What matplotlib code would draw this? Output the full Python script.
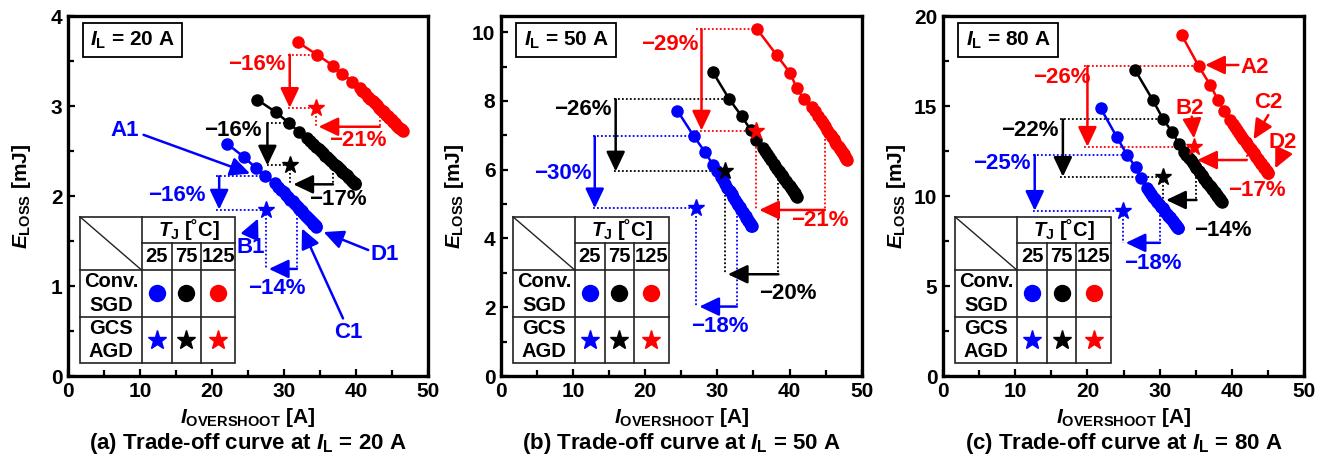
import matplotlib
matplotlib.use('Agg')
import matplotlib.pyplot as plt
from matplotlib.patches import Rectangle
from matplotlib.ticker import MultipleLocator

plt.rcParams['font.family'] = ['Liberation Sans', 'DejaVu Sans']
plt.rcParams['font.weight'] = 'bold'
plt.rcParams['axes.labelweight'] = 'bold'
plt.rcParams['mathtext.fontset'] = 'custom'
plt.rcParams['mathtext.rm'] = 'Liberation Sans:bold'
plt.rcParams['mathtext.it'] = 'Liberation Sans:italic:bold'
plt.rcParams['mathtext.bf'] = 'Liberation Sans:bold'

# junction temperatures and colours (25, 75, 125 degC)
temps = ['25', '75', '125']
colors = ['#0000ff', '#000000', '#ff0000']
load_currents = [20, 50, 80]

# ---- (a) IL = 20 A : conventional SGD trade-off curves (I_OVERSHOOT [A], E_LOSS [mJ]) ----
a_blue_x = [22.1, 24.5, 26.1, 27.4, 28.7, 29.2, 29.6, 30.0, 30.3, 30.6, 30.9, 31.2, 31.4, 31.7, 31.9,
            32.1, 32.3, 32.5, 32.7, 32.9, 33.0, 33.2, 33.3, 33.5, 33.6, 33.8, 33.9, 34.0, 34.1,
            34.2, 34.3, 34.4, 34.5]
a_blue_y = [2.58, 2.43, 2.31, 2.22, 2.14, 2.10, 2.07, 2.04, 2.01, 1.99, 1.96, 1.94, 1.92, 1.90, 1.88,
            1.86, 1.84, 1.83, 1.81, 1.79, 1.78, 1.77, 1.76, 1.74, 1.73, 1.72, 1.71, 1.70, 1.69,
            1.69, 1.68, 1.67, 1.66]
a_black_x = [26.3, 28.9, 30.7, 32.1, 33.2, 33.6, 34.0, 34.4, 34.8, 35.1, 35.4, 35.7, 36.0, 36.3,
             36.6, 36.9, 37.1, 37.4, 37.6, 37.9, 38.1, 38.3, 38.5, 38.7, 38.9, 39.1, 39.3, 39.4,
             39.6, 39.7, 39.8, 39.9]
a_black_y = [3.07, 2.93, 2.81, 2.71, 2.64, 2.61, 2.58, 2.55, 2.52, 2.50, 2.48, 2.45, 2.43, 2.41,
             2.39, 2.36, 2.35, 2.33, 2.31, 2.29, 2.27, 2.26, 2.24, 2.23, 2.21, 2.20, 2.18, 2.17,
             2.16, 2.15, 2.14, 2.13]
a_red_x = [31.9, 34.6, 36.8, 38.1, 39.5, 40.5, 40.9, 41.3, 41.7, 42.0, 42.3, 42.6, 42.9, 43.2, 43.5,
           43.7, 43.9, 44.2, 44.4, 44.6, 44.8, 45.0, 45.2, 45.4, 45.6, 45.7, 45.9, 46.0, 46.2,
           46.3, 46.4, 46.5]
a_red_y = [3.71, 3.57, 3.45, 3.36, 3.27, 3.20, 3.17, 3.14, 3.10, 3.08, 3.06, 3.03, 3.01, 2.98, 2.96,
           2.94, 2.93, 2.90, 2.89, 2.87, 2.86, 2.84, 2.82, 2.81, 2.79, 2.78, 2.77, 2.76, 2.74,
           2.74, 2.73, 2.72]
# GCS AGD operating points
a_gcs_x = [27.5, 30.9, 34.4]
a_gcs_y = [1.85, 2.34, 2.98]
# reductions [%]: E_LOSS and I_OVERSHOOT
a_eloss_red = [16, 16, 16]
a_iover_red = [14, 17, 21]

# ---- (b) IL = 50 A ----
b_blue_x = [24.45, 26.75, 28.3, 29.4, 30.0, 30.5, 30.8, 31.1, 31.4, 31.7, 32.0, 32.2, 32.5, 32.7,
            32.9, 33.1, 33.3, 33.5, 33.7, 33.9, 34.0, 34.2, 34.3, 34.4, 34.5, 34.6, 34.7, 34.75]
b_blue_y = [7.72, 6.97, 6.51, 6.14, 5.95, 5.79, 5.69, 5.59, 5.48, 5.38, 5.28, 5.21, 5.11, 5.04,
            4.97, 4.91, 4.84, 4.77, 4.70, 4.64, 4.60, 4.54, 4.50, 4.47, 4.44, 4.40, 4.37, 4.35]
b_black_x = [29.4, 31.65, 33.4, 34.6, 35.4, 36.3, 36.6, 36.9, 37.2, 37.5, 37.8, 38.0, 38.3, 38.5,
             38.7, 38.9, 39.1, 39.3, 39.5, 39.7, 39.9, 40.0, 40.2, 40.3, 40.5, 40.6, 40.7, 40.8,
             40.9, 41.0]
b_black_y = [8.83, 8.05, 7.55, 7.16, 6.87, 6.63, 6.54, 6.45, 6.36, 6.27, 6.18, 6.12, 6.03, 5.97,
             5.91, 5.85, 5.79, 5.73, 5.67, 5.61, 5.55, 5.52, 5.46, 5.43, 5.37, 5.34, 5.31, 5.28,
             5.25, 5.22]
b_red_x = [35.5, 38.2, 40.1, 41.0, 42.0, 43.1, 43.5, 43.9, 44.3, 44.6, 44.9, 45.2, 45.5, 45.7, 45.9,
           46.1, 46.3, 46.5, 46.7, 46.8, 47.0, 47.1, 47.3, 47.4, 47.5, 47.6, 47.7, 47.8, 47.9, 48.0]
b_red_y = [10.09, 9.34, 8.81, 8.37, 8.05, 7.82, 7.70, 7.57, 7.45, 7.35, 7.26, 7.16, 7.07, 7.01, 6.95,
           6.88, 6.82, 6.76, 6.70, 6.67, 6.60, 6.57, 6.51, 6.48, 6.45, 6.42, 6.38, 6.35, 6.32, 6.29]
b_gcs_x = [27.1, 31.05, 35.4]
b_gcs_y = [4.88, 5.95, 7.14]
b_eloss_red = [30, 26, 29]
b_iover_red = [18, 20, 21]

# ---- (c) IL = 80 A ----
c_blue_x = [21.85, 24.05, 25.5, 26.7, 27.4, 28.2, 28.5, 28.8, 29.1, 29.4, 29.7, 29.9, 30.2, 30.4,
            30.6, 30.8, 31.0, 31.2, 31.4, 31.5, 31.7, 31.8, 32.0, 32.1, 32.2, 32.3, 32.4, 32.5, 32.6]
c_blue_y = [14.87, 13.29, 12.28, 11.59, 10.98, 10.43, 10.28, 10.13, 9.97, 9.82, 9.67, 9.57, 9.41, 9.31,
            9.21, 9.11, 9.01, 8.91, 8.81, 8.76, 8.66, 8.61, 8.50, 8.45, 8.40, 8.35, 8.30, 8.25, 8.20]
c_black_x = [26.6, 29.05, 30.5, 31.7, 32.7, 33.4, 33.7, 34.0, 34.3, 34.6, 34.9, 35.1, 35.4, 35.6,
             35.8, 36.0, 36.2, 36.4, 36.6, 36.8, 37.0, 37.1, 37.3, 37.4, 37.6, 37.7, 37.9, 38.0,
             38.1, 38.2, 38.3, 38.4, 38.5, 38.6]
c_black_y = [17.0, 15.33, 14.26, 13.57, 12.89, 12.46, 12.30, 12.14, 11.98, 11.82, 11.66, 11.55, 11.39,
             11.28, 11.18, 11.07, 10.96, 10.86, 10.75, 10.64, 10.54, 10.48, 10.38, 10.32, 10.21,
             10.16, 10.05, 10.00, 9.95, 9.89, 9.84, 9.79, 9.73, 9.68]
c_red_x = [33.06, 35.4, 37.0, 38.1, 38.9, 39.75, 40.1, 40.4, 40.7, 41.0, 41.3, 41.6, 41.9, 42.1,
           42.4, 42.6, 42.8, 43.0, 43.2, 43.4, 43.6, 43.8, 44.0, 44.1, 44.3, 44.4, 44.5, 44.7,
           44.8, 44.9, 45.0, 45.05]
c_red_y = [18.94, 17.22, 16.17, 15.33, 14.74, 14.22, 14.02, 13.86, 13.69, 13.52, 13.36, 13.19, 13.02,
           12.91, 12.74, 12.63, 12.52, 12.41, 12.30, 12.18, 12.07, 11.96, 11.85, 11.79, 11.68,
           11.62, 11.57, 11.46, 11.40, 11.34, 11.29, 11.26]
c_gcs_x = [24.9, 30.5, 34.8]
c_gcs_y = [9.18, 11.07, 12.74]
c_eloss_red = [25, 22, 26]
c_iover_red = [18, 14, 17]

# annotation layout (data coords), one entry per temperature
# v_idx: curve point used for the E_LOSS comparison, v_x: (dotted start x, arrow x)
# h: (curve x, arrow y) for the I_OVERSHOOT comparison
layout_a = dict(v_idx=[3, 2, 1], v_x=[(20.6, 21.0), (27.6, 27.7), (30.6, 30.8)],
                v_txt=[(15.1, 2.01), (22.9, 2.73), (26.2, 3.46)],
                h=[(31.8, 1.19), (36.8, 2.13), (43.3, 2.77)],
                h_txt=[(29.0, 0.97), (37.5, 1.96), (40.3, 2.62)],
                tags=[('A1', (7.9, 2.73), (10.5, 2.68), (25.3, 2.25)),
                      ('B1', (25.4, 1.43), (25.5, 1.59), (26.4, 1.75)),
                      ('C1', (38.9, 0.48), (38.2, 0.64), (32.5, 1.64)),
                      ('D1', (44.0, 1.35), (41.7, 1.40), (35.5, 1.60))],
                tag_color='#0000ff')
layout_b = dict(v_idx=[1, 1, 0], v_x=[(12.8, 13.0), (15.6, 15.9), (27.1, 27.8)],
                v_txt=[(8.6, 5.9), (11.4, 7.74), (23.4, 9.63)],
                h=[(32.7, 2.02), (38.45, 2.96), (44.9, 4.83)],
                h_txt=[(30.4, 1.43), (39.8, 2.4), (44.2, 4.53)],
                tags=[], tag_color='#ff0000')
layout_c = dict(v_idx=[2, 2, 1], v_x=[(12.5, 12.7), (16.2, 16.6), (19.5, 20.0)],
                v_txt=[(8.1, 11.8), (12.05, 13.63), (16.4, 16.6)],
                h=[(30.05, 7.4), (35.1, 9.78), (42.05, 12.0)],
                h_txt=[(29.1, 6.26), (38.7, 8.1), (43.4, 10.33)],
                tags=[('A2', (43.1, 17.14), (40.9, 17.28), (36.3, 17.28)),
                      ('B2', (34.2, 14.87), (34.45, 14.41), (34.76, 13.2)),
                      ('C2', (45.05, 15.18), (45.05, 14.5), (43.0, 13.15)),
                      ('D2', (47.1, 12.97), (47.1, 12.46), (46.0, 11.54))],
                tag_color='#ff0000')

FS = 15        # ticks, axis labels, boxes
FS_TAB = 14.5  # inset table
FS_ANN = 16    # percentages and point tags
DOT = dict(ls=(0, (1, 1.2)), lw=1.3, zorder=2)
HEAD = '-|>,head_length=0.8,head_width=0.38'


def arrow(ax, tail, tip, c):
    ax.annotate('', xy=tip, xytext=tail,
                arrowprops=dict(arrowstyle=HEAD, mutation_scale=15, color=c, lw=1.8,
                                shrinkA=0, shrinkB=0), zorder=3)


def draw_table(ax):
    cx = [0.033, 0.205, 0.288, 0.369, 0.465]
    ry = [0.4425, 0.369, 0.294, 0.165, 0.035]
    tr = ax.transAxes
    ax.add_patch(Rectangle((cx[0], ry[-1]), cx[-1] - cx[0], ry[0] - ry[-1], transform=tr,
                           facecolor='white', edgecolor='#222222', lw=1.2, zorder=5))
    ln = dict(color='#222222', lw=1.2, transform=tr, zorder=6)
    ax.plot([cx[1], cx[-1]], [ry[1], ry[1]], **ln)
    for y in ry[2:4]:
        ax.plot([cx[0], cx[-1]], [y, y], **ln)
    ax.plot([cx[1], cx[1]], [ry[0], ry[-1]], **ln)
    for x in cx[2:4]:
        ax.plot([x, x], [ry[1], ry[-1]], **ln)
    ax.plot([cx[0], cx[1]], [ry[0], ry[2]], color='#222222', lw=1.0, transform=tr, zorder=6)
    ax.text((cx[1] + cx[-1]) / 2, (ry[0] + ry[1]) / 2, r'$T_\mathrm{J}$ [˚C]', transform=tr,
            ha='center', va='center', fontsize=FS_TAB, zorder=7)
    for k in range(3):
        xm = (cx[k + 1] + cx[k + 2]) / 2
        ax.text(xm, (ry[1] + ry[2]) / 2, temps[k], transform=tr, ha='center', va='center',
                fontsize=FS_TAB, zorder=7)
        ax.plot(xm, (ry[2] + ry[3]) / 2, 'o', color=colors[k], ms=11.5, transform=tr, zorder=7)
        ax.plot(xm, (ry[3] + ry[4]) / 2, '*', color=colors[k], ms=14, transform=tr, zorder=7)
    ax.text((cx[0] + cx[1]) / 2, (ry[2] + ry[3]) / 2, 'Conv.\nSGD', transform=tr, ha='center',
            va='center', fontsize=FS_TAB, linespacing=1.3, zorder=7)
    ax.text((cx[0] + cx[1]) / 2, (ry[3] + ry[4]) / 2, 'GCS\nAGD', transform=tr, ha='center',
            va='center', fontsize=FS_TAB, linespacing=1.3, zorder=7)


def draw_panel(ax, curves, gcs_x, gcs_y, e_red, i_red, lay, ymax, ystep, letter, il):
    ax.set_xlim(0, 50)
    ax.set_ylim(0, ymax)
    ax.xaxis.set_major_locator(MultipleLocator(10))
    ax.xaxis.set_minor_locator(MultipleLocator(5))
    ax.yaxis.set_major_locator(MultipleLocator(ystep))
    ax.yaxis.set_minor_locator(MultipleLocator(ystep / 2))
    ax.tick_params(which='both', direction='in', labelsize=FS, width=1.6)
    ax.tick_params(which='major', length=5, pad=4)
    ax.tick_params(which='minor', length=4)
    for s in ax.spines.values():
        s.set_linewidth(2.4)

    for k in range(3):
        c = colors[k]
        cxs, cys = curves[k]
        ax.plot(cxs, cys, '-o', color=c, ms=8, lw=1.8, zorder=3)
        ax.plot(gcs_x[k], gcs_y[k], '*', color=c, ms=12.5, zorder=4)

        # E_LOSS reduction at the same overshoot
        i0 = lay['v_idx'][k]
        x_left, x_arr = lay['v_x'][k]
        y0 = cys[i0]
        ax.plot([x_left, cxs[i0]], [y0, y0], color=c, **DOT)
        ax.plot([x_left, gcs_x[k]], [gcs_y[k], gcs_y[k]], color=c, **DOT)
        arrow(ax, (x_arr, y0), (x_arr, gcs_y[k]), c)
        ax.text(*lay['v_txt'][k], '\u2212%d%%' % e_red[k], color=c, fontsize=FS_ANN,
                ha='center', va='center')

        # I_OVERSHOOT reduction at the same loss
        xc, ya = lay['h'][k]
        ax.plot([gcs_x[k], gcs_x[k]], [gcs_y[k], ya], color=c, **DOT)
        ax.plot([xc, xc], [gcs_y[k], ya], color=c, **DOT)
        arrow(ax, (xc, ya), (gcs_x[k] + 0.4, ya), c)
        ax.text(*lay['h_txt'][k], '\u2212%d%%' % i_red[k], color=c, fontsize=FS_ANN,
                ha='center', va='center')

    for name, txy, tail, tip in lay['tags']:
        ax.text(*txy, name, color=lay['tag_color'], fontsize=FS_ANN, ha='center', va='center')
        ax.annotate('', xy=tip, xytext=tail,
                    arrowprops=dict(arrowstyle=HEAD, mutation_scale=15,
                                    color=lay['tag_color'], lw=1.8, shrinkA=0, shrinkB=0))

    # load current box
    ax.add_patch(Rectangle((0.041, 0.886), 0.277, 0.094, transform=ax.transAxes,
                           facecolor='white', edgecolor='black', lw=1.3, zorder=5))
    ax.text(0.18, 0.933, r'$I_\mathrm{L}$ = %d A' % il, transform=ax.transAxes,
            ha='center', va='center', fontsize=FS, zorder=6)

    draw_table(ax)

    ax.set_xlabel(r'$I_\mathrm{OVERSHOOT}$ [A]', fontsize=FS)
    ax.xaxis.set_label_coords(0.5, -0.115)
    ax.xaxis.label.set_va('center')
    ax.set_ylabel(r'$E_\mathrm{LOSS}$ [mJ]', fontsize=FS)
    ax.yaxis.set_label_coords(-0.13, 0.5)
    ax.yaxis.label.set_va('center')
    ax.text(0.5, -0.187, r'(%s) Trade-off curve at $I_\mathrm{L}$ = %d A' % (letter, il),
            transform=ax.transAxes, ha='center', va='center', fontsize=16)


fig = plt.figure(figsize=(13.25, 4.57), dpi=100)
ax_a = fig.add_axes([0.0513, 0.1772, 0.2717, 0.7877])
ax_b = fig.add_axes([0.3781, 0.1772, 0.2722, 0.7877])
ax_c = fig.add_axes([0.7117, 0.1772, 0.2725, 0.7877])

draw_panel(ax_a, [(a_blue_x, a_blue_y), (a_black_x, a_black_y), (a_red_x, a_red_y)],
           a_gcs_x, a_gcs_y, a_eloss_red, a_iover_red, layout_a, 4, 1, 'a', load_currents[0])
draw_panel(ax_b, [(b_blue_x, b_blue_y), (b_black_x, b_black_y), (b_red_x, b_red_y)],
           b_gcs_x, b_gcs_y, b_eloss_red, b_iover_red, layout_b, 10.47, 2, 'b', load_currents[1])
draw_panel(ax_c, [(c_blue_x, c_blue_y), (c_black_x, c_black_y), (c_red_x, c_red_y)],
           c_gcs_x, c_gcs_y, c_eloss_red, c_iover_red, layout_c, 20, 5, 'c', load_currents[2])

fig.savefig('out.png', dpi=100)
